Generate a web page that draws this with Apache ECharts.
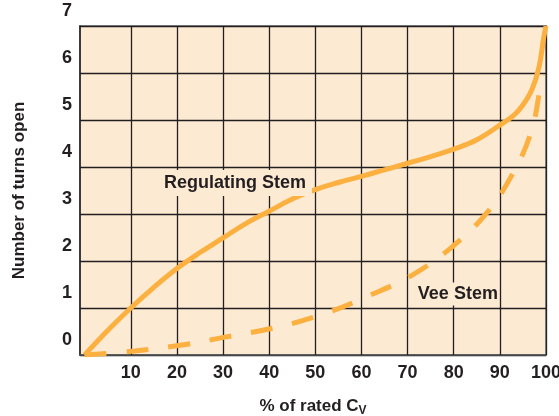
<!DOCTYPE html>
<html><head><meta charset="utf-8">
<script src="https://cdn.jsdelivr.net/npm/echarts@6/dist/echarts.min.js"></script>
<style>html,body{margin:0;padding:0;background:#fff}#c{width:559px;height:416px}</style>
</head><body><div id="c"></div>
<script>
// tick labels
const xTicks = [10, 20, 30, 40, 50, 60, 70, 80, 90, 100];
const yTicks = [0, 1, 2, 3, 4, 5, 6, 7];
// Regulating Stem (solid)
const regX = [0, 5, 10, 15, 20, 25, 30, 35, 40, 45, 50, 55, 60, 65, 70, 75, 80, 85, 90, 93, 95, 97, 98.5, 99.5, 100];
const regY = [0, 0.52, 1.0, 1.44, 1.84, 2.18, 2.49, 2.8, 3.06, 3.32, 3.52, 3.67, 3.8, 3.94, 4.08, 4.22, 4.38, 4.58, 4.89, 5.1, 5.32, 5.66, 6.13, 6.75, 7.0];
// Vee Stem (dashed)
const veeX = [0, 10.9, 22.2, 30.4, 42.1, 52.3, 61.6, 71, 79.4, 86.8, 92.4, 96.7, 98.8, 99.3];
const veeY = [0, 0.085, 0.23, 0.38, 0.6, 0.89, 1.26, 1.7, 2.28, 2.98, 3.79, 4.72, 5.7, 5.96];
// series names
const seriesNames = ['Regulating Stem', 'Vee Stem'];

const ORANGE = '#fbb040';
const INK = '#231f20';
const BG = '#fdead3';
const FONT = '"Liberation Sans", Arial, Helvetica, sans-serif';

const zip = (xs, ys) => xs.map((x, i) => [x, ys[i]]);

const chart = echarts.init(document.getElementById('c'), null, {renderer: 'canvas'});
chart.setOption({
  animation: false,
  backgroundColor: '#ffffff',
  textStyle: {fontFamily: FONT},
  grid: {left: 80, right: 13, top: 26, bottom: 61, containLabel: false, outerBoundsMode: 'none',
    show: true, backgroundColor: BG, borderColor: '#8c8c8c', borderWidth: 2},
  xAxis: {
    type: 'value', min: -1, max: 100,
    name: '% of rated C{sub|V}', nameLocation: 'middle', nameGap: 41,
    nameTextStyle: {fontFamily: FONT, fontWeight: 'bold', fontSize: 17, color: INK,
      rich: {sub: {fontFamily: FONT, fontWeight: 'bold', fontSize: 12, color: INK, padding: [9, 0, 0, 0]}}},
    axisLine: {show: true, onZero: false, lineStyle: {color: '#555', width: 1.5}},
    axisTick: {show: false, customValues: xTicks},
    axisLabel: {customValues: xTicks, fontFamily: FONT, fontWeight: 'bold', fontSize: 18, color: INK, margin: 9},
    splitLine: {show: false}
  },
  yAxis: {
    type: 'value', min: 0, max: 7, interval: 1,
    name: 'Number of turns open', nameLocation: 'middle', nameGap: 52, nameRotate: 90,
    nameTextStyle: {fontFamily: FONT, fontWeight: 'bold', fontSize: 17, color: INK},
    axisLine: {show: true, onZero: false, lineStyle: {color: INK, width: 1.5}},
    axisTick: {show: false},
    axisLabel: {fontFamily: FONT, fontWeight: 'bold', fontSize: 18, color: INK, margin: 8,
      verticalAlign: 'bottom', lineHeight: 30, showMinLabel: true, showMaxLabel: true, hideOverlap: false,
      formatter: v => yTicks.includes(v) ? String(v) : ''},
    splitLine: {show: true, lineStyle: {color: INK, width: 1.3}}
  },
  series: [
    {
      name: seriesNames[0], type: 'line', data: zip(regX, regY), smooth: 0.4,
      showSymbol: false, symbol: 'none',
      lineStyle: {color: ORANGE, width: 5, cap: 'butt'}, z: 3,
      markLine: {
        silent: true, symbol: 'none', animation: false, z: 1,
        label: {show: false},
        lineStyle: {color: INK, width: 1.3, type: 'solid'},
        emphasis: {disabled: true},
        data: xTicks.map(v => ({xAxis: v}))
      }
    },
    {
      name: seriesNames[1], type: 'line', data: zip(veeX, veeY), smooth: 0.4,
      showSymbol: false, symbol: 'none',
      lineStyle: {color: ORANGE, width: 5, type: [22, 20], cap: 'butt'}, z: 3
    },
    {
      type: 'scatter', symbolSize: 0, z: 5, silent: true,
      itemStyle: {opacity: 1},
      data: [
        {value: [32.6, 3.66], label: {formatter: seriesNames[0]}},
        {value: [80.9, 1.30], label: {formatter: seriesNames[1], padding: [3, 1, 2, 1]}}
      ],
      label: {show: true, position: 'inside', fontFamily: FONT, fontWeight: 'bold', fontSize: 18,
        color: INK, opacity: 1, backgroundColor: BG, padding: [4, 6, 4, 6]}
    }
  ]
});
</script>
</body></html>
